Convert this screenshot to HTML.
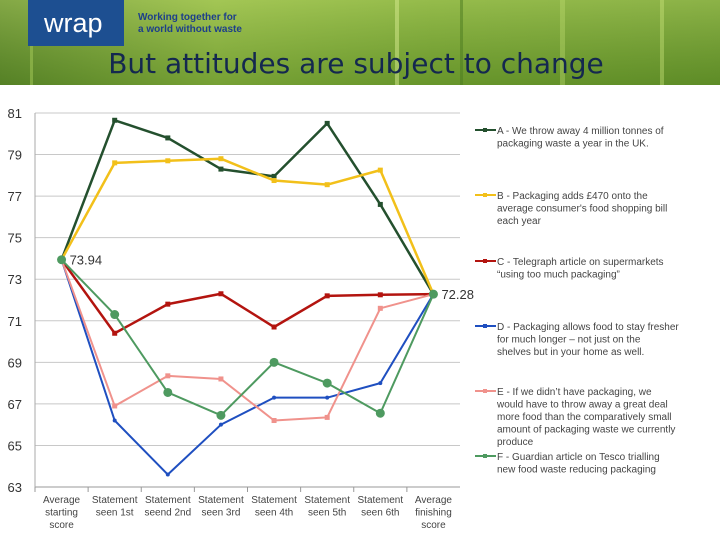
<!DOCTYPE html>
<html><head><meta charset="utf-8"><style>
body{margin:0;width:720px;height:540px;overflow:hidden;background:#fff;font-family:"Liberation Sans",sans-serif}
</style></head><body>
<svg width="720" height="540" xmlns="http://www.w3.org/2000/svg" id="root">
<defs>
<linearGradient id="grass" x1="0" y1="0" x2="1" y2="0">
<stop offset="0" stop-color="#5f8a2a"/><stop offset="0.3" stop-color="#8fb840"/><stop offset="0.6" stop-color="#7aa832"/><stop offset="1" stop-color="#6c9a2c"/>
</linearGradient>
<linearGradient id="grassv" x1="0" y1="0" x2="0" y2="1">
<stop offset="0" stop-color="#c8e07a" stop-opacity="0.35"/><stop offset="1" stop-color="#3c6a1a" stop-opacity="0.3"/>
</linearGradient>
</defs>
<g>
<rect x="0" y="0" width="720" height="85" fill="url(#grass)"/>
<rect x="0" y="0" width="720" height="85" fill="url(#grassv)"/>
<rect x="30" y="0" width="3" height="85" fill="#a8cc5a" opacity="0.5"/>
<rect x="395" y="0" width="4" height="85" fill="#d8ec90" opacity="0.5"/>
<rect x="460" y="0" width="3" height="85" fill="#4a7a20" opacity="0.5"/>
<rect x="560" y="0" width="5" height="85" fill="#bedc70" opacity="0.4"/>
<rect x="660" y="0" width="4" height="85" fill="#d0e880" opacity="0.4"/>
<rect x="28" y="0" width="96" height="46" fill="#1d4f91"/>
<text x="44" y="32" font-size="27" fill="#fff" font-family="Liberation Sans, sans-serif">wrap</text>
<text x="138" y="20" font-size="10" font-weight="bold" fill="#1d3f8a">Working together for</text>
<text x="138" y="32" font-size="10" font-weight="bold" fill="#1d3f8a">a world without waste</text>
<text x="356" y="73" font-size="28" text-anchor="middle" fill="#14284f" font-family="DejaVu Sans, sans-serif">But attitudes are subject to change</text>
</g>
<g id="chart"></g>
</svg>
<script>
const categories=["Average|starting|score","Statement|seen 1st","Statement|seend 2nd","Statement|seen 3rd","Statement|seen 4th","Statement|seen 5th","Statement|seen 6th","Average|finishing|score"];
const seriesA=[73.94,80.65,79.8,78.3,77.95,80.5,76.6,72.28];
const seriesB=[73.94,78.6,78.7,78.8,77.75,77.55,78.25,72.28];
const seriesC=[73.94,70.4,71.8,72.3,70.7,72.2,72.25,72.28];
const seriesD=[73.94,66.2,63.6,66.0,67.3,67.3,68.0,72.28];
const seriesE=[73.94,66.9,68.35,68.2,66.2,66.35,71.6,72.28];
const seriesF=[73.94,71.3,67.55,66.45,69.0,68.0,66.55,72.28];
const yTicks=[63,65,67,69,71,73,75,77,79,81];
const legendLabels=[
["A - We throw away 4 million tonnes of","packaging waste a year in the UK."],
["B - Packaging adds £470 onto the","average consumer's food shopping bill","each year"],
["C - Telegraph article on supermarkets","\u201cusing too much packaging\u201d"],
["D - Packaging allows food to stay fresher","for much longer \u2013 not just on the","shelves but in your home as well."],
["E - If we didn\u2019t have packaging, we","would have to throw away a great deal","more food than the comparatively small","amount of packaging waste we currently","produce"],
["F - Guardian article on Tesco trialling","new food waste reducing packaging"]];
const startLabel="73.94", endLabel="72.28";

const NS="http://www.w3.org/2000/svg";
const g=document.getElementById('chart');
const X0=35,X1=460,YT=113,YB=487,YMIN=63,YMAX=81;
const bw=(X1-X0)/categories.length;
const xs=i=>X0+bw*(i+0.5);
const ys=v=>YB-(v-YMIN)/(YMAX-YMIN)*(YB-YT);
function mk(t,a,p){const e=document.createElementNS(NS,t);for(const k in a)e.setAttribute(k,a[k]);(p||g).appendChild(e);return e;}
yTicks.forEach(v=>{
 const l=mk('line',{x1:X0,x2:X1,y1:ys(v),y2:ys(v),stroke:v===YMIN?'#999':'#c8c8c8','stroke-width':1});
 
 
 const t=mk('text',{x:22,y:ys(v)+5,'font-size':13,'text-anchor':'end',fill:'#333'});
 t.textContent=v;
 
 
});
const ax=mk('line',{x1:X0,x2:X0,y1:YT,y2:YB,stroke:'#aaa'});


categories.forEach((c,i)=>{
 const tk=mk('line',{x1:X0+bw*i,x2:X0+bw*i,y1:YB,y2:YB+5,stroke:'#999'});
 
 
 c.split('|').forEach((s,j)=>{
  const t=mk('text',{x:xs(i),y:YB+16+j*12.5,'font-size':10,'text-anchor':'middle',fill:'#444'});
  t.textContent=s;
  
  
 });
});
const series=[[seriesA,'#24502e',2.5,'s'],[seriesB,'#f2c01a',2.5,'s'],[seriesC,'#b3140f',2.5,'s'],[seriesD,'#1f4fc0',2,'t'],[seriesE,'#f0928c',2,'s'],[seriesF,'#4e9a60',2,'c']];
const names=['a','b','c','d','e','f'];
series.forEach(([d,col,w,m],k)=>{
 const p=mk('polyline',{points:d.map((v,i)=>xs(i)+','+ys(v)).join(' '),fill:'none',stroke:col,'stroke-width':w,'stroke-linejoin':'round'});
 
 
 d.forEach((v,i)=>{
  let e;
  if(m==='c')e=mk('circle',{cx:xs(i),cy:ys(v),r:4.5,fill:col});
  else if(m==='t')e=mk('circle',{cx:xs(i),cy:ys(v),r:2,fill:col});
  else e=mk('rect',{x:xs(i)-2.5,y:ys(v)-2.5,width:5,height:5,fill:col});
  
  
 });
});
let t1=mk('text',{x:xs(0)+8,y:ys(seriesF[0])+5,'font-size':13,fill:'#333'});
t1.textContent=startLabel;


let t2=mk('text',{x:xs(7)+8,y:ys(seriesF[7])+5,'font-size':13,fill:'#333'});
t2.textContent=endLabel;


const legY=[130,195,261,326,391,456];
legendLabels.forEach((lines,k)=>{
 const col=series[k][1];
 const l=mk('line',{x1:475,x2:496,y1:legY[k],y2:legY[k],stroke:col,'stroke-width':2});
 
 
 const mrk=mk('rect',{x:483,y:legY[k]-2,width:4,height:4,fill:col});
 
 
 lines.forEach((s,j)=>{
  const t=mk('text',{x:497,y:legY[k]+4+j*12.5,'font-size':10,fill:'#444'});
  t.textContent=s;
  
  
 });
});
</script>
</body></html>
